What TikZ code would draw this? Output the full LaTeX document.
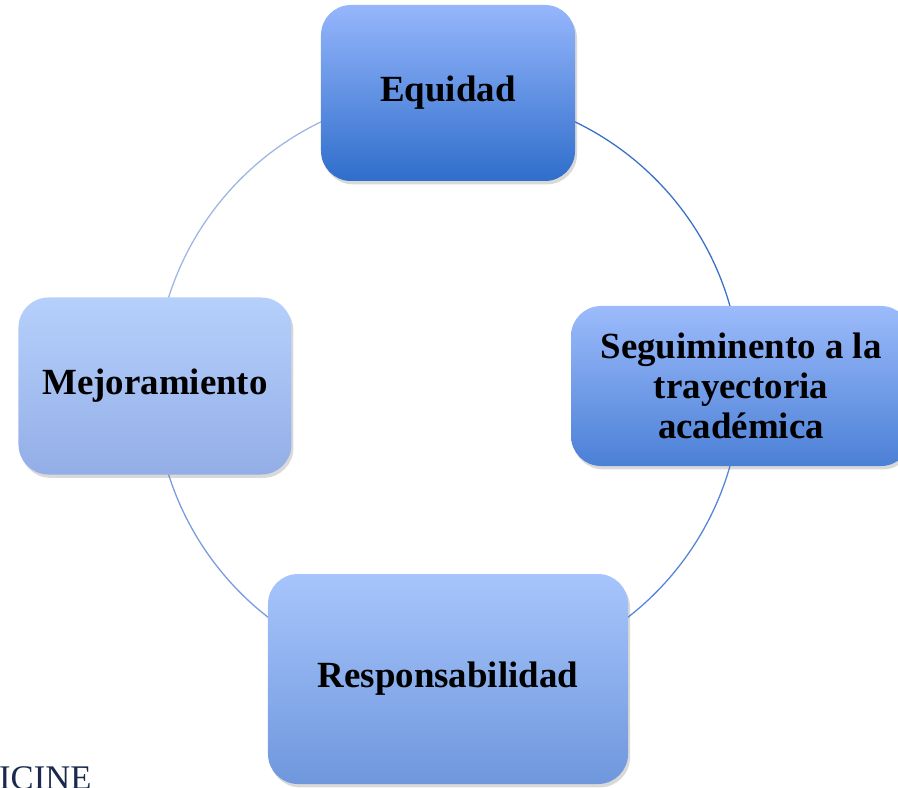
\documentclass[tikz,border=0pt]{standalone}
\usepackage{fontspec}
\setmainfont{Liberation Serif}
\usetikzlibrary{shadows,backgrounds,positioning}
\definecolor{eqtop}{HTML}{96B6FC}
\definecolor{eqbot}{HTML}{2F6ECB}
\definecolor{segtop}{HTML}{9CBBFB}
\definecolor{segbot}{HTML}{4B80D6}
\definecolor{restop}{HTML}{A7C5FC}
\definecolor{resbot}{HTML}{6F97DD}
\definecolor{mejtop}{HTML}{B6D0FC}
\definecolor{mejbot}{HTML}{93AEE6}
\definecolor{arcoA}{HTML}{3B70C8}
\definecolor{arcoB}{HTML}{5586D5}
\definecolor{arcoC}{HTML}{7B9CDC}
\definecolor{arcoD}{HTML}{9FB6E4}
\definecolor{logoazul}{HTML}{1B2A4C}
\tikzstyle{bloque}=[rectangle, rounded corners=0.9cm, inner sep=0pt,
  align=center, font=\fontsize{31.5}{34}\selectfont\bfseries,
  drop shadow={shadow xshift=0.6mm, shadow yshift=-1mm, opacity=0.3}]
\tikzstyle{arco}=[line width=1.1pt]

\begin{document}
\begin{tikzpicture}[x=0.03cm, y=-0.03cm, on grid, node distance=8.79cm]
  \useasboundingbox (0,0) rectangle (898,788);
  \coordinate (centro) at (448,386);

  \node[bloque, top color=eqtop, bottom color=eqbot, minimum width=7.62cm,
    minimum height=5.28cm, above=of centro, anchor=center]  (eq)  {Equidad};
  \node[bloque, top color=segtop, bottom color=segbot, minimum width=10.2cm,
    minimum height=4.8cm, right=of centro, anchor=center]   (seg) {Seguiminento a la\\trayectoria\\académica};
  \node[bloque, top color=restop, bottom color=resbot, minimum width=10.8cm,
    minimum height=6.3cm, below=of centro, anchor=center]   (res) {Responsabilidad};
  \node[bloque, top color=mejtop, bottom color=mejbot, minimum width=8.19cm,
    minimum height=5.31cm, left=of centro, anchor=center]   (mej) {Mejoramiento};

  \begin{scope}[on background layer]
    \draw[arco, arcoA] (eq.center)  arc[start angle=90,  end angle=0,    radius=8.79cm];
    \draw[arco, arcoB] (seg.center) arc[start angle=0,   end angle=-90,  radius=8.79cm];
    \draw[arco, arcoC] (res.center) arc[start angle=-90, end angle=-180, radius=8.79cm];
    \draw[arco, arcoD] (mej.center) arc[start angle=180, end angle=90,   radius=8.79cm];
  \end{scope}

  \node[font=\fontsize{29.5}{30}\selectfont, text=logoazul, anchor=base west,
    inner sep=0pt] (logo) at (-1,789) {ICINE};
\end{tikzpicture}
\end{document}
